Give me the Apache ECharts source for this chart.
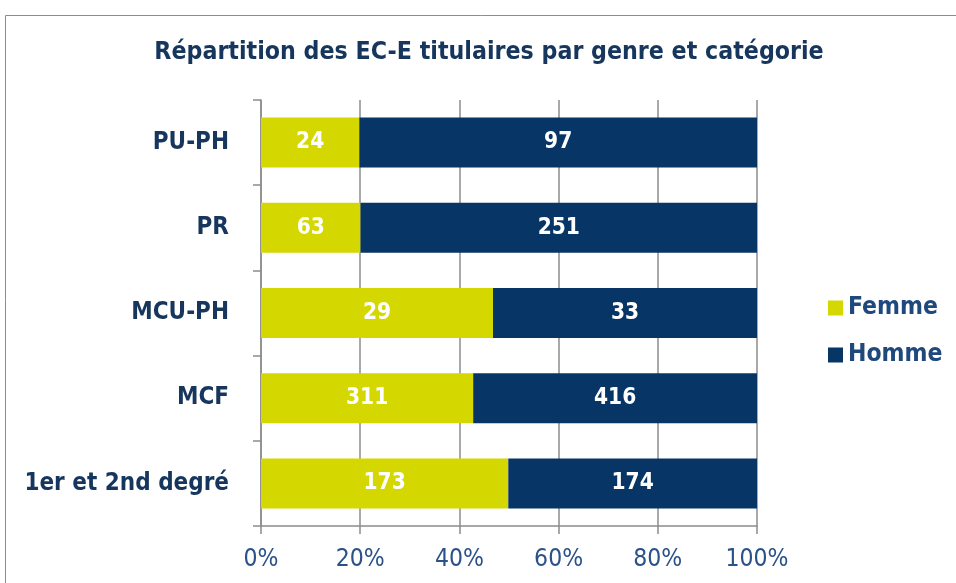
<!DOCTYPE html>
<html>
<head>
<meta charset="utf-8">
<script src="https://cdn.jsdelivr.net/npm/echarts@6/dist/echarts.min.js"></script>
<style>
    html, body { margin: 0; padding: 0; background: #fff; }
    #chart { width: 956px; height: 583px; }
</style>
</head>
<body>
<div id="chart"></div>
<script>
// catégories, de haut en bas
const categories = ['PU-PH', 'PR', 'MCU-PH', 'MCF', '1er et 2nd degré']
const femme = [24, 63, 29, 311, 173]
const homme = [97, 251, 33, 416, 174]
const xTicks = ['0%', '20%', '40%', '60%', '80%', '100%']

const font = '"DejaVu Sans Condensed", "DejaVu Sans", sans-serif'
const narrow = '"Liberation Sans Narrow", "DejaVu Sans Condensed", sans-serif'
const navy = '#17365d'

// parts en % pour les barres empilées à 100 %
const share = (a, b) => a.map((v, i) => ({ value: v / (v + b[i]) * 100, count: v }))

const chart = echarts.init(document.getElementById('chart'))

const labelStyle = {
    show: true,
    position: 'inside',
    color: '#fff',
    fontFamily: font,
    fontWeight: 'bold',
    fontSize: 22.5,
    formatter: p => p.data.count
}

chart.setOption({
    animation: false,
    textStyle: { fontFamily: font },
    title: {
        text: 'Répartition des EC-E titulaires par genre et catégorie',
        left: 484,
        textAlign: 'center',
        top: 35,
        textStyle: { color: navy, fontFamily: font, fontWeight: 'bold', fontSize: 24.7 }
    },
    graphic: [{
        type: 'rect',
        shape: { x: 5.5, y: 15.5, width: 960, height: 600 },
        style: { fill: 'none', stroke: '#8c8c8c', lineWidth: 1 },
        silent: true
    }],
    legend: {
        orient: 'vertical',
        left: 828,
        top: 295,
        padding: 0,
        itemWidth: 15,
        itemHeight: 15,
        itemGap: 21,
        icon: 'rect',
        textStyle: { color: '#1f497d', fontFamily: font, fontWeight: 'bold', fontSize: 24.5, lineHeight: 26 },
        data: ['Femme', 'Homme']
    },
    grid: { left: 261, right: 199, top: 100, bottom: 57 },
    xAxis: {
        type: 'value',
        min: 0,
        max: 100,
        interval: 20,
        axisLine: { show: true, lineStyle: { color: '#8c8c8c', width: 1.5 } },
        axisTick: { show: true, length: 8, lineStyle: { color: '#8c8c8c', width: 1.5 } },
        splitLine: { show: true, lineStyle: { color: '#8c8c8c', width: 1.5 } },
        axisLabel: {
            color: '#2a5289',
            fontFamily: narrow,
            fontSize: 24.5,
            margin: 21,
            formatter: v => xTicks[v / 20]
        }
    },
    yAxis: {
        type: 'category',
        inverse: true,
        data: categories,
        axisLine: { show: true, lineStyle: { color: '#8c8c8c', width: 1.5 } },
        axisTick: { show: true, length: 8, lineStyle: { color: '#8c8c8c', width: 1.5 } },
        axisLabel: {
            color: navy,
            fontFamily: font,
            fontWeight: 'bold',
            fontSize: 24,
            margin: 32
        }
    },
    series: [
        {
            name: 'Femme',
            type: 'bar',
            stack: 'total',
            barWidth: 50,
            itemStyle: { color: '#d4d700' },
            label: labelStyle,
            data: share(femme, homme)
        },
        {
            name: 'Homme',
            type: 'bar',
            stack: 'total',
            barWidth: 50,
            itemStyle: { color: '#073566' },
            label: labelStyle,
            data: share(homme, femme)
        }
    ]
})
</script>
</body>
</html>
